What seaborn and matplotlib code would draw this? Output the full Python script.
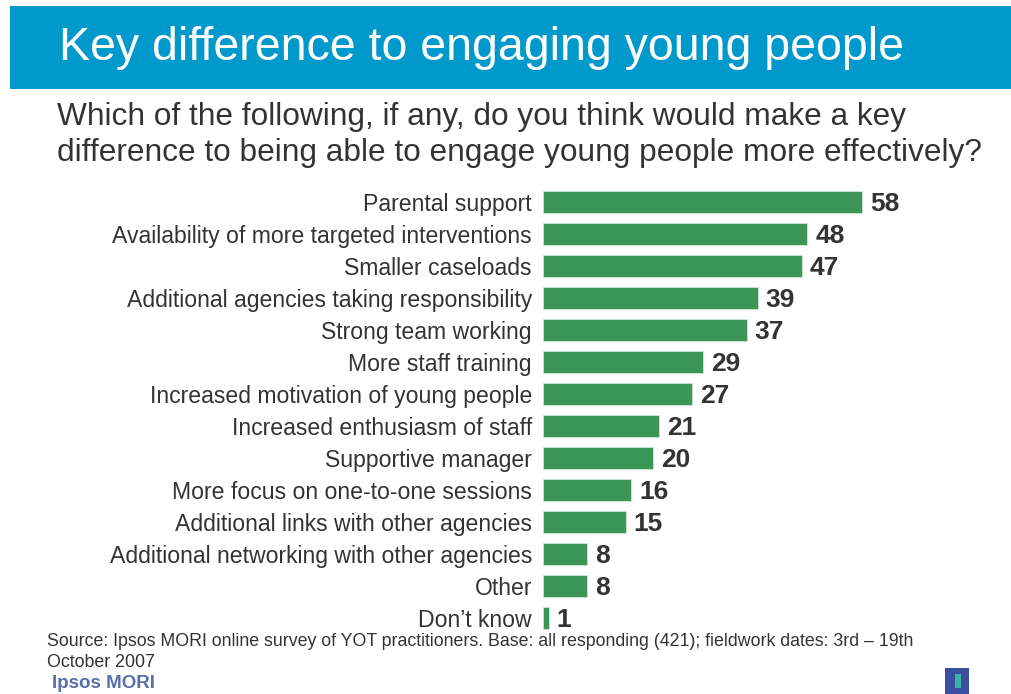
import matplotlib
matplotlib.use("Agg")
import matplotlib.pyplot as plt
import seaborn as sns
import pandas as pd
from matplotlib.patches import Rectangle

categories = [
    "Parental support",
    "Availability of more targeted interventions",
    "Smaller caseloads",
    "Additional agencies taking responsibility",
    "Strong team working",
    "More staff training",
    "Increased motivation of young people",
    "Increased enthusiasm of staff",
    "Supportive manager",
    "More focus on one-to-one sessions",
    "Additional links with other agencies",
    "Additional networking with other agencies",
    "Other",
    "Don\u2019t know",
]
values = [58, 48, 47, 39, 37, 29, 27, 21, 20, 16, 15, 8, 8, 1]

title = "Key difference to engaging young people"
question = ("Which of the following, if any, do you think would make a key\n"
            "difference to being able to engage young people more effectively?")
source = ("Source: Ipsos MORI online survey of YOT practitioners. Base: all responding (421); "
          "fieldwork dates: 3rd \u2013 19th\nOctober 2007")

sns.set_theme(style="white")
plt.rcParams["font.family"] = ["Liberation Sans", "DejaVu Sans"]

W, H = 1011, 694
fig = plt.figure(figsize=(W / 100, H / 100), dpi=100)

# title banner
fig.patches.append(Rectangle((10 / W, 1 - 89 / H), 1 - 10 / W, 83 / H,
                             transform=fig.transFigure, facecolor="#0099CC",
                             edgecolor="none", zorder=0))
fig.text(59 / W, 1 - 48 / H, title, color="white", fontsize=33.5,
         va="center", ha="left")
fig.text(57 / W, 1 - 135 / H, question, color="#333333", fontsize=22.8,
         va="center", ha="left", linespacing=1.28)

# axes
left, right_px = 543, 543 + 5.5 * 70
top_px, bot_px = 186, 634
ax = fig.add_axes([left / W, 1 - bot_px / H, (right_px - left) / W, (bot_px - top_px) / H])
df = pd.DataFrame({"cat": categories, "val": values})
sns.barplot(data=df, y="cat", x="val", orient="h", color="#3C9657",
            saturation=1, width=0.66, edgecolor="#cfe6d6", linewidth=0.6, ax=ax)
ax.set_xlim(0, 70)
ax.set_ylim(len(categories) - 0.5, -0.5)
ax.set_xlabel("")
ax.set_ylabel("")
ax.set_xticks([])
for s in ax.spines.values():
    s.set_visible(False)
ax.tick_params(axis="y", length=0, pad=8, labelsize=16.6, labelcolor="#333333")
for i, v in enumerate(values):
    ax.annotate(str(v), xy=(v, i), xytext=(6, -1.5), textcoords="offset points",
                ha="left", va="center", fontsize=19, fontweight="bold", color="#333333")

fig.text(47 / W, 1 - 652 / H, source, color="#333333", fontsize=12.8,
         va="center", ha="left", linespacing=1.25)
fig.text(52 / W, 1 - 683 / H, "Ipsos MORI", color="#5a6fa8", fontsize=13.5,
         fontweight="bold", va="center", ha="left")
fig.patches.append(Rectangle((945 / W, 1 - 694 / H), 24 / W, 26 / H,
                             transform=fig.transFigure, facecolor="#3b4fa0",
                             edgecolor="none"))
fig.patches.append(Rectangle((955 / W, 1 - 688 / H), 6 / W, 14 / H,
                             transform=fig.transFigure, facecolor="#39b5a8",
                             edgecolor="none"))

fig.savefig("out.png", dpi=100)
